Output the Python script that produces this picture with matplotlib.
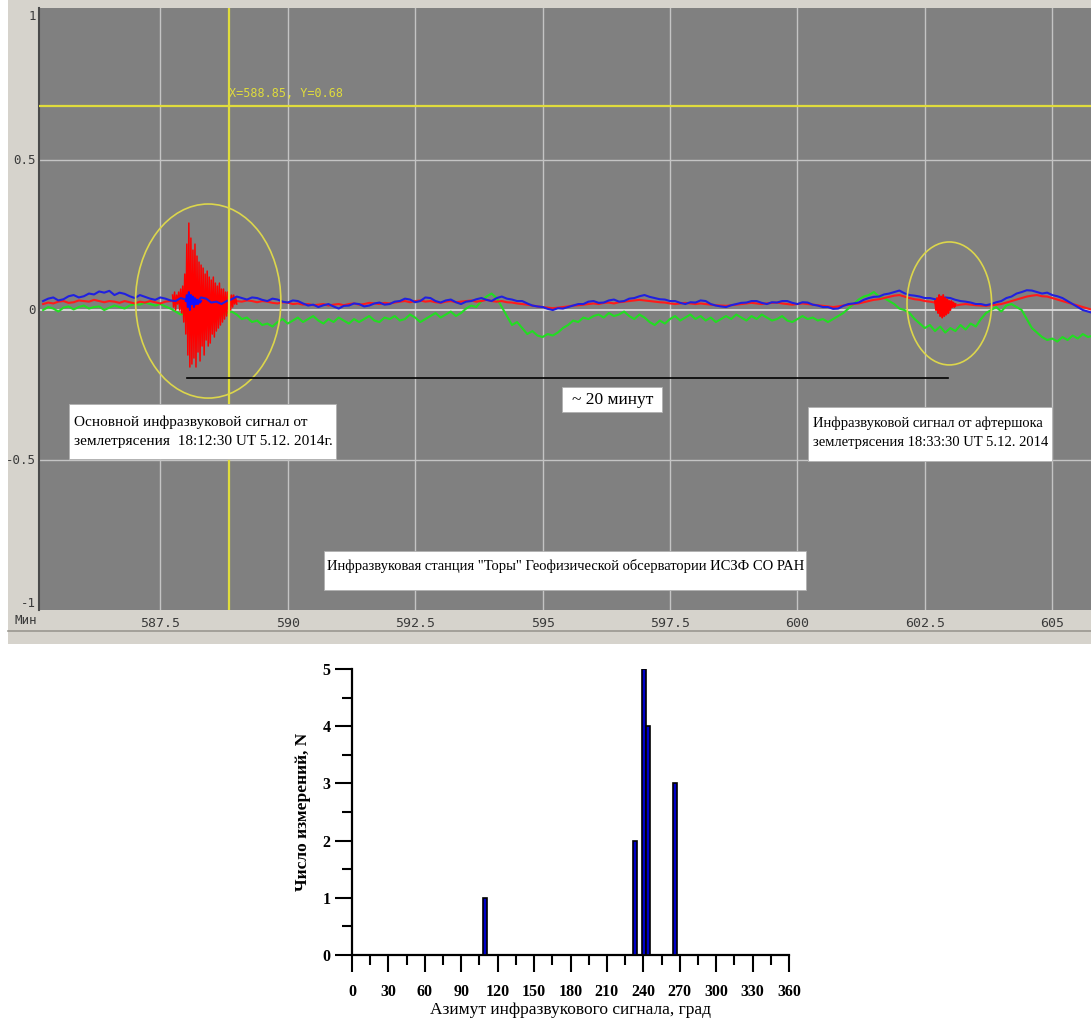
import numpy as np
import matplotlib
matplotlib.use('Agg')
import matplotlib.pyplot as plt
from matplotlib.patches import Ellipse, Rectangle

# --- top panel: infrasound record, minutes, sampled every 0.1 min from 585.2 ---
T0, DT = 585.2, 0.1
BLUE = [0.030, 0.038, 0.042, 0.032, 0.036, 0.046, 0.050, 0.042, 0.046, 0.055,
        0.052, 0.062, 0.058, 0.064, 0.050, 0.058, 0.054, 0.046, 0.040, 0.050,
        0.044, 0.038, 0.034, 0.042, 0.038, 0.032, 0.030, 0.040, 0.035, 0.048,
        0.020, 0.042, 0.038, 0.025, 0.028, 0.020, 0.030, 0.036, 0.045, 0.040,
        0.035, 0.042, 0.040, 0.034, 0.030, 0.038, 0.035, 0.028, 0.025, 0.032,
        0.030, 0.022, 0.015, 0.018, 0.010, 0.016, 0.020, 0.012, 0.005, 0.014,
        0.015, 0.022, 0.020, 0.012, 0.015, 0.022, 0.025, 0.018, 0.020, 0.028,
        0.030, 0.038, 0.035, 0.026, 0.030, 0.042, 0.040, 0.030, 0.025, 0.032,
        0.035, 0.026, 0.020, 0.028, 0.030, 0.036, 0.040, 0.034, 0.030, 0.040,
        0.045, 0.038, 0.035, 0.030, 0.030, 0.022, 0.015, 0.012, 0.010, 0.004,
        0.000, 0.006, 0.005, 0.010, 0.015, 0.020, 0.020, 0.028, 0.030, 0.024,
        0.025, 0.032, 0.035, 0.028, 0.030, 0.038, 0.040, 0.046, 0.050, 0.044,
        0.040, 0.036, 0.035, 0.030, 0.030, 0.024, 0.020, 0.026, 0.025, 0.032,
        0.030, 0.020, 0.015, 0.012, 0.010, 0.016, 0.020, 0.024, 0.025, 0.030,
        0.030, 0.024, 0.020, 0.026, 0.025, 0.030, 0.030, 0.024, 0.020, 0.026,
        0.025, 0.018, 0.015, 0.010, 0.010, 0.004, 0.005, 0.014, 0.020, 0.022,
        0.025, 0.034, 0.040, 0.044, 0.045, 0.052, 0.055, 0.060, 0.065, 0.056,
        0.050, 0.048, 0.045, 0.040, 0.040, 0.036, 0.035, 0.042, 0.040, 0.034,
        0.030, 0.028, 0.025, 0.020, 0.020, 0.016, 0.020, 0.026, 0.030, 0.040,
        0.045, 0.055, 0.060, 0.066, 0.065, 0.060, 0.055, 0.058, 0.050, 0.046,
        0.040, 0.030, 0.020, 0.010, 0.000, -0.005, -0.010]
GREEN = [0.000, 0.010, 0.005, -0.005, 0.008, 0.012, 0.002, 0.010, 0.015, 0.005,
         0.010, 0.012, 0.000, 0.008, 0.015, 0.010, 0.005, 0.015, 0.020, 0.018,
         0.025, 0.020, 0.015, 0.020, 0.012, 0.005, -0.005, -0.015, -0.010, -0.030,
         -0.020, -0.040, -0.025, -0.045, -0.030, -0.020, -0.010, -0.005, -0.015, -0.030,
         -0.025, -0.040, -0.035, -0.050, -0.045, -0.055, -0.040, -0.030, -0.045, -0.035,
         -0.025, -0.040, -0.030, -0.020, -0.035, -0.045, -0.030, -0.040, -0.025, -0.035,
         -0.045, -0.030, -0.040, -0.030, -0.020, -0.035, -0.040, -0.025, -0.030, -0.020,
         -0.035, -0.030, -0.015, -0.025, -0.040, -0.030, -0.020, -0.010, -0.025, -0.015,
         -0.005, -0.020, -0.010, 0.005, 0.015, 0.010, 0.030, 0.045, 0.055, 0.040,
         0.010, -0.020, -0.050, -0.040, -0.060, -0.080, -0.070, -0.085, -0.090, -0.080,
         -0.085, -0.075, -0.060, -0.050, -0.035, -0.040, -0.025, -0.030, -0.020, -0.015,
         -0.025, -0.010, -0.020, -0.015, -0.005, -0.020, -0.030, -0.015, -0.025, -0.040,
         -0.050, -0.035, -0.045, -0.030, -0.020, -0.035, -0.025, -0.015, -0.030, -0.020,
         -0.035, -0.025, -0.040, -0.030, -0.020, -0.030, -0.015, -0.025, -0.035, -0.020,
         -0.030, -0.015, -0.025, -0.035, -0.030, -0.020, -0.035, -0.040, -0.030, -0.020,
         -0.030, -0.025, -0.035, -0.030, -0.040, -0.030, -0.020, -0.010, 0.005, 0.020,
         0.035, 0.045, 0.050, 0.060, 0.045, 0.040, 0.030, 0.020, 0.005, 0.000,
         -0.010, -0.030, -0.045, -0.060, -0.050, -0.070, -0.055, -0.075, -0.060, -0.070,
         -0.050, -0.065, -0.045, -0.055, -0.030, -0.010, 0.000, 0.010, -0.005, 0.015,
         0.020, 0.010, 0.000, -0.030, -0.060, -0.075, -0.090, -0.100, -0.095, -0.105,
         -0.090, -0.100, -0.085, -0.095, -0.080, -0.090, -0.085]
RED = [0.020, 0.025, 0.022, 0.028, 0.030, 0.024, 0.026, 0.032, 0.030, 0.028,
       0.034, 0.030, 0.026, 0.030, 0.028, 0.024, 0.030, 0.026, 0.022, 0.028,
       0.025, 0.030, 0.026, 0.022, 0.028, 0.030, 0.030, 0.035, 0.030, 0.032,
       0.030, 0.028, 0.030, 0.032, 0.030, 0.028, 0.030, 0.032, 0.030, 0.028,
       0.032, 0.030, 0.026, 0.030, 0.028, 0.024, 0.022, 0.026, 0.025, 0.020,
       0.022, 0.018, 0.020, 0.016, 0.018, 0.020, 0.015, 0.018, 0.020, 0.016,
       0.020, 0.022, 0.018, 0.020, 0.024, 0.022, 0.020, 0.024, 0.022, 0.025,
       0.028, 0.030, 0.026, 0.030, 0.032, 0.028, 0.030, 0.026, 0.024, 0.028,
       0.030, 0.026, 0.028, 0.030, 0.032, 0.028, 0.030, 0.034, 0.030, 0.028,
       0.030, 0.026, 0.025, 0.022, 0.020, 0.018, 0.015, 0.012, 0.010, 0.008,
       0.006, 0.008, 0.010, 0.012, 0.015, 0.016, 0.018, 0.020, 0.022, 0.020,
       0.024, 0.025, 0.022, 0.026, 0.028, 0.030, 0.032, 0.034, 0.032, 0.030,
       0.028, 0.026, 0.025, 0.022, 0.020, 0.022, 0.024, 0.022, 0.020, 0.022,
       0.020, 0.018, 0.016, 0.015, 0.014, 0.016, 0.018, 0.020, 0.022, 0.024,
       0.022, 0.020, 0.022, 0.024, 0.025, 0.022, 0.020, 0.018, 0.020, 0.022,
       0.020, 0.018, 0.016, 0.014, 0.012, 0.010, 0.012, 0.015, 0.018, 0.020,
       0.022, 0.026, 0.030, 0.034, 0.036, 0.040, 0.044, 0.048, 0.050, 0.045,
       0.040, 0.036, 0.034, 0.030, 0.028, 0.025, 0.020, 0.015, 0.012, 0.015,
       0.018, 0.020, 0.018, 0.016, 0.015, 0.014, 0.016, 0.018, 0.020, 0.025,
       0.030, 0.035, 0.040, 0.045, 0.048, 0.050, 0.046, 0.045, 0.040, 0.035,
       0.030, 0.025, 0.020, 0.015, 0.010, 0.005, 0.000]

# main shock burst (red) and its blue part, sampled every 0.02 min
BURST_T0, BURST_DT = 587.74, 0.02
RED_BURST = [0.05, 0.01, 0.06, 0.00, 0.05, 0.02, 0.06, 0.00, 0.07, -0.01,
             0.08, -0.04, 0.12, -0.08, 0.22, -0.15, 0.29, -0.19, 0.24, -0.18,
             0.20, -0.16, 0.22, -0.19, 0.18, -0.14, 0.16, -0.17, 0.15, -0.12,
             0.14, -0.15, 0.12, -0.10, 0.13, -0.12, 0.11, -0.11, 0.10, -0.08,
             0.11, -0.09, 0.09, -0.07, 0.08, -0.06, 0.09, -0.05, 0.07, -0.04,
             0.07, -0.03, 0.06, -0.02, 0.06, -0.01, 0.05, 0.00, 0.05, 0.01,
             0.05, 0.02, 0.04, 0.02]
BLUE_BURST_T0 = 588.00
BLUE_BURST = [0.03, 0.05, 0.01, 0.06, 0.00, 0.05, 0.02, 0.045, 0.01, 0.04,
              0.02, 0.035, 0.02, 0.03, 0.025, 0.03]
# aftershock burst (red)
AFTER_T0 = 602.70
RED_AFTER = [0.03, 0.00, 0.04, -0.01, 0.05, -0.02, 0.045, -0.025, 0.05, -0.02,
             0.04, -0.015, 0.035, -0.01, 0.03, 0.00, 0.03, 0.01, 0.025, 0.01, 0.02]

X_TICKS = [587.5, 590, 592.5, 595, 597.5, 600, 602.5, 605]
X_TICK_LABELS = ['587.5', '590', '592.5', '595', '597.5', '600', '602.5', '605']
Y_TICKS = [1, 0.5, 0, -0.5, -1]
Y_TICK_LABELS = ['1', '0.5', '0', '-0.5', '-1']
CURSOR_X, CURSOR_Y = 588.85, 0.68

# --- bottom panel: azimuth histogram ---
AZIMUTH = [109.5, 233.0, 240.5, 244.0, 266.0]
COUNT = [1, 2, 5, 4, 3]
BAR_WIDTH = 3.5

W, H = 1091, 1021
fig = plt.figure(figsize=(W / 100, H / 100), dpi=100)
fig.patch.set_facecolor('white')

# window frame of the recording program
fig.add_artist(Rectangle((8 / W, 1 - 644 / H), 1 - 8 / W, 644 / H,
                         transform=fig.transFigure, fc='#d6d3cc', ec='none', zorder=0))
fig.add_artist(plt.Line2D([8 / W, 1], [1 - 631 / H] * 2, transform=fig.transFigure,
                          color='#9a9890', lw=1.2, zorder=1))

MONO = 'DejaVu Sans Mono'
SERIF = 'Liberation Serif'
LBL = '#3a3a3a'

ax = fig.add_axes([39 / W, 1 - 610 / H, 1 - 39 / W, 602 / H])
ax.set_facecolor('#808080')
ax.set_xlim(585.12, 605.76)
ax.set_ylim(-1, 1.007)
for s in ax.spines.values():
    s.set_visible(False)
ax.spines['left'].set_visible(True)
ax.spines['left'].set_color('#4a4a4a')
ax.spines['left'].set_linewidth(1.5)
ax.set_xticks([])
ax.set_yticks([])
for xt in X_TICKS:
    ax.axvline(xt, color='#c4c4c4', lw=1.0, zorder=1)
for yt in [0.5, -0.5]:
    ax.axhline(yt, color='#c4c4c4', lw=1.0, zorder=1)
ax.axhline(0, color='#e2e2e2', lw=1.2, zorder=1)

ax.plot(T0 + DT * np.arange(len(GREEN)), GREEN, color='#22dd22', lw=1.5, zorder=3)
ax.plot(T0 + DT * np.arange(len(RED)), RED, color='#ff1a1a', lw=1.5, zorder=4)
ax.plot(BURST_T0 + BURST_DT * np.arange(len(RED_BURST)), RED_BURST,
        color='#ff0000', lw=1.1, zorder=4)
ax.plot(T0 + DT * np.arange(len(BLUE)), BLUE, color='#2020e0', lw=1.5, zorder=5)
ax.plot(BLUE_BURST_T0 + BURST_DT * np.arange(len(BLUE_BURST)), BLUE_BURST,
        color='#1010ff', lw=1.4, zorder=5)
ax.plot(AFTER_T0 + BURST_DT * np.arange(len(RED_AFTER)), RED_AFTER,
        color='#ff0000', lw=1.4, zorder=6)

# cursor
ax.axvline(CURSOR_X, color='#e0dc3c', lw=1.6, zorder=7)
ax.axhline(CURSOR_Y, color='#e0dc3c', lw=1.6, zorder=7)
ax.text(CURSOR_X - 0.01, CURSOR_Y + 0.02, f'X={CURSOR_X:.2f}, Y={CURSOR_Y:.2f}',
        color='#e0dc3c', family=MONO, fontsize=8.5, va='bottom', ha='left', zorder=7)

# event marks
ax.add_patch(Ellipse((588.44, 0.03), 2.85, 0.647, fill=False, ec='#dcd64c', lw=1.2, zorder=7))
ax.add_patch(Ellipse((602.98, 0.022), 1.66, 0.41, fill=False, ec='#dcd64c', lw=1.2, zorder=7))
ax.plot([588.03, 602.95], [-0.227, -0.227], color='black', lw=1.2, zorder=7)

boxes = [
    ((585.71, -0.497), 5.24, 0.184, 585.80, -0.405, 'left',
     'Основной инфразвуковой сигнал от\nземлетрясения  18:12:30 UT 5.12. 2014г.', 11),
    ((595.39, -0.340), 1.95, 0.083, 596.37, -0.300, 'center', '~ 20 минут', 12.5),
    ((600.21, -0.503), 4.78, 0.180, 600.30, -0.410, 'left',
     'Инфразвуковой сигнал от афтершока\nземлетрясения 18:33:30 UT 5.12. 2014', 10.5),
    ((590.72, -0.933), 9.45, 0.130, 595.45, -0.853, 'center',
     'Инфразвуковая станция "Торы" Геофизической обсерватории ИСЗФ СО РАН', 10.5),
]
for (xy, bw, bh, tx, ty, ha, label, fs) in boxes:
    ax.add_patch(Rectangle(xy, bw, bh, fc='white', ec='#b0b0b0', lw=0.6, zorder=8))
    ax.text(tx, ty, label, family=SERIF, fontsize=fs, ha=ha, va='center',
            linespacing=1.6, color='black', zorder=9)

# tick labels drawn on the frame
for yt, lab in zip(Y_TICKS, Y_TICK_LABELS):
    va = 'top' if yt == 1 else ('bottom' if yt == -1 else 'center')
    ax.text(-0.003, yt, lab, transform=ax.get_yaxis_transform(), ha='right', va=va,
            family=MONO, fontsize=9, color=LBL)
for xt, lab in zip(X_TICKS, X_TICK_LABELS):
    ax.text(xt, -0.012, lab, transform=ax.get_xaxis_transform(), ha='center', va='top',
            family=MONO, fontsize=9.5, color=LBL)
fig.text(14 / W, 1 - 620 / H, 'Мин', family=MONO, fontsize=9, color=LBL,
         ha='left', va='center')

# histogram
bx = fig.add_axes([352 / W, 1 - 955 / H, 437 / W, 286 / H])
bx.bar(AZIMUTH, COUNT, width=BAR_WIDTH, color='#0000c8', edgecolor='black', lw=1.2,
       zorder=3)
bx.set_xlim(0, 360)
bx.set_ylim(0, 5)
bx.spines['top'].set_visible(False)
bx.spines['right'].set_visible(False)
for side in ['left', 'bottom']:
    bx.spines[side].set_linewidth(1.6)
bx.set_xticks(np.arange(0, 361, 30))
bx.set_xticks(np.arange(15, 360, 30), minor=True)
bx.set_yticks(np.arange(0, 6, 1))
bx.set_yticks(np.arange(0.5, 5, 1), minor=True)
bx.tick_params(which='major', length=12, width=1.5, direction='out')
bx.tick_params(which='minor', length=7, width=1.5, direction='out')
bx.tick_params(axis='x', pad=9)
for lab in bx.get_xticklabels() + bx.get_yticklabels():
    lab.set_family(SERIF)
    lab.set_fontsize(11.5)
    lab.set_fontweight('bold')
bx.set_xlabel('Азимут инфразвукового сигнала, град', family=SERIF, fontsize=12.5,
              labelpad=1)
bx.set_ylabel('Число измерений, N', family=SERIF, fontsize=12.5, fontweight='bold',
              labelpad=8)

fig.savefig('out.png', dpi=100)
